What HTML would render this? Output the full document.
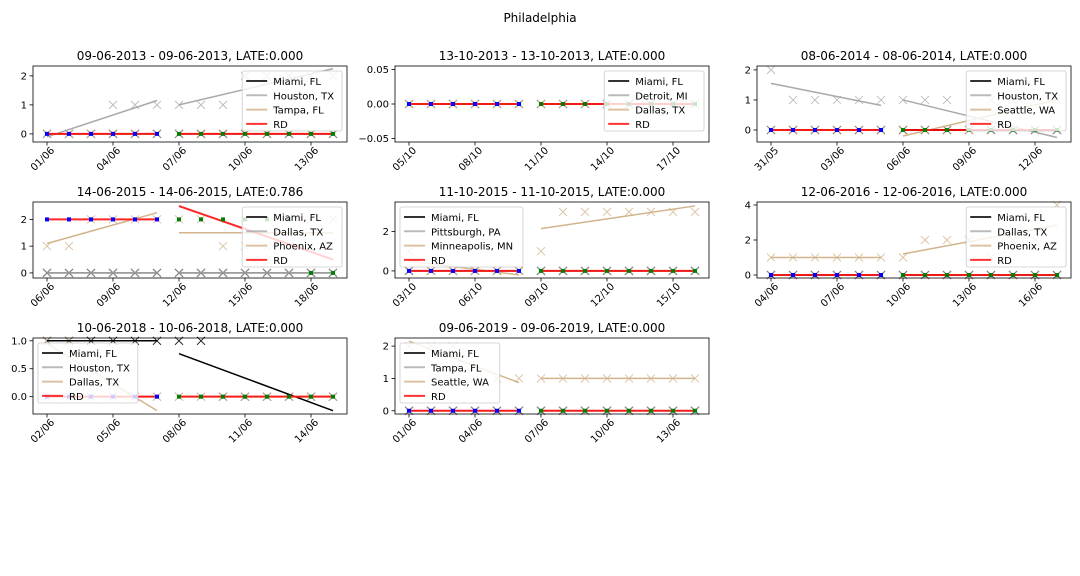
<!DOCTYPE html>
<html><head><meta charset="utf-8">
<style>
html,body{margin:0;padding:0;background:#fff;}
svg{display:block;font-family:"DejaVu Sans","Liberation Sans",sans-serif;}
</style></head>
<body>
<svg id="fig" width="1080" height="576" viewBox="0 0 1080 576" xmlns="http://www.w3.org/2000/svg">
<rect width="1080" height="576" fill="#fff"/>
<text x="540" y="22" text-anchor="middle" font-size="12" fill="#000">Philadelphia</text>
</svg>
<script>
// ----- data -----
const panelTitles = ["09-06-2013 - 09-06-2013, LATE:0.000","13-10-2013 - 13-10-2013, LATE:0.000","08-06-2014 - 08-06-2014, LATE:0.000","14-06-2015 - 14-06-2015, LATE:0.786","11-10-2015 - 11-10-2015, LATE:0.000","12-06-2016 - 12-06-2016, LATE:0.000","10-06-2018 - 10-06-2018, LATE:0.000","09-06-2019 - 09-06-2019, LATE:0.000"];
const seriesNames = [["Miami, FL","Houston, TX","Tampa, FL","RD"],["Miami, FL","Detroit, MI","Dallas, TX","RD"],["Miami, FL","Houston, TX","Seattle, WA","RD"],["Miami, FL","Dallas, TX","Phoenix, AZ","RD"],["Miami, FL","Pittsburgh, PA","Minneapolis, MN","RD"],["Miami, FL","Dallas, TX","Phoenix, AZ","RD"],["Miami, FL","Houston, TX","Dallas, TX","RD"],["Miami, FL","Tampa, FL","Seattle, WA","RD"]];
const xTickLabels = [["01/06","04/06","07/06","10/06","13/06"],["05/10","08/10","11/10","14/10","17/10"],["31/05","03/06","06/06","09/06","12/06"],["06/06","09/06","12/06","15/06","18/06"],["03/10","06/10","09/10","12/10","15/10"],["04/06","07/06","10/06","13/06","16/06"],["02/06","05/06","08/06","11/06","14/06"],["01/06","04/06","07/06","10/06","13/06"]];
const yTickValues = [[0,1,2],[-0.05,0,0.05],[0,1,2],[0,1,2],[0,2],[0,2,4],[0,0.5,1],[0,1,2]];
const yTickLabels = [["0","1","2"],["−0.05","0.00","0.05"],["0","1","2"],["0","1","2"],["0","2"],["0","2","4"],["0.0","0.5","1.0"],["0","1","2"]];
const yRanges = [[-0.28,2.34],[-0.055,0.055],[-0.4,2.13],[-0.19,2.65],[-0.36,3.5],[-0.17,4.17],[-0.31,1.05],[-0.1,2.25]];
const Z = [0,0,0,0,0,0,0,0,0,0,0,0,0,0];
const miamiValues = [Z,Z,Z,Z,Z,Z,[1,1,1,1,1,1,1,1,0,0,0,0,0,0],Z];
const city2Values = [[0,0,0,1,1,1,1,1,1,2,2,2,2,2],Z,[2,1,1,1,1,1,1,1,1,0,0,0,0,0],Z,Z,Z,Z,Z];
const city3Values = [Z,Z,[0,0,0,0,0,0,0,0,0,0,1,1,1,1],[1,1,2,2,2,2,2,2,1,1,1,1,2,2],[1,0,0,0,0,0,1,3,3,3,3,3,3,3],[1,1,1,1,1,1,1,2,2,2,1,2,2,4],[1,1,0,0,0,0,0,0,0,0,0,0,0,0],[2,2,2,1,1,1,1,1,1,1,1,1,1,1]];
const rdValues = [Z,Z,Z,[2,2,2,2,2,2,2,2,2,2,2,2,0,0],Z,Z,Z,Z];
// trend lines: [segA start, segA end, segB start, segB end]
const miamiTrend = [[0,0,0,0],[0,0,0,0],[0,0,0,0],[0,0,0,0],[0,0,0,0],[0,0,0,0],[1,1,0.77,-0.25],[0,0,0,0]];
const city2Trend = [[-0.1,1.15,1.0,2.25],[0,0,0,0],[1.55,0.82,1.0,-0.25],[0,0,0,0],[0,0,0,0],[0,0,0,0],[0,0,0,0],[0,0,0,0]];
const city3Trend = [[0,0,0,0],[0,0,0,0],[0,0,-0.2,1.0],[1.1,2.25,1.5,1.5],[0.5,-0.2,2.15,3.3],[1,1,1.2,2.85],[0.95,-0.25,0,0],[2.15,0.87,1,1]];
const rdTrend = [[0,0,0,0],[0,0,0,0],[0,0,0,0],[2,2,2.5,0.5],[0,0,0,0],[0,0,0,0],[0,0,0,0],[0,0,0,0]];
const legendLeft = [false,false,false,false,true,false,true,true];

// ----- layout -----
const NS="http://www.w3.org/2000/svg";
const svg=document.getElementById('fig');
const colLeft=[33,395,757], axW=314;
const rowTop=[66,202,338], axH=76;
function mk(tag,attrs,parent){const e=document.createElementNS(NS,tag);for(const k in attrs)e.setAttribute(k,attrs[k]);(parent||svg).appendChild(e);return e;}
const colors=["#000000","#a9a9a9","#d2b48c","#ff0000"];

for(let p=0;p<8;p++){
  const L=colLeft[p%3], T=rowTop[Math.floor(p/3)], R=L+axW, B=T+axH;
  const [y0,y1]=yRanges[p];
  const xs=i=>L+14+i*22;
  const ys=v=>B-(v-y0)/(y1-y0)*axH;
  const g=mk('g',{});
  
  
  const t=mk('text',{x:L+axW/2,y:T-6,'text-anchor':'middle','font-size':'12',fill:'#000'},g);
  t.textContent=panelTitles[p];
  
  
  const trends=[miamiTrend[p],city2Trend[p],city3Trend[p],rdTrend[p]];
  const vals=[miamiValues[p],city2Values[p],city3Values[p],rdValues[p]];
  for(let s=0;s<3;s++){
    vals[s].forEach((v,i)=>{
      const x=xs(i),y=ys(v),d=4;
      const m=mk('path',{d:`M${x-d},${y-d}L${x+d},${y+d}M${x-d},${y+d}L${x+d},${y-d}`,stroke:s==0?'#000':colors[s],'stroke-width':1,opacity:s==0?0.9:0.75,fill:'none'},g);
      
      
    });
  }
  for(let s=0;s<4;s++){
    const tr=trends[s];
    [[0,5,tr[0],tr[1]],[6,13,tr[2],tr[3]]].forEach(seg=>{
      const ln=mk('line',{x1:xs(seg[0]),y1:ys(seg[2]),x2:xs(seg[1]),y2:ys(seg[3]),stroke:colors[s],'stroke-width':s==3?2:1.5,opacity:s==3?0.85:1},g);
      
      
    });
  }
  rdValues[p].forEach((v,i)=>{
    const r=mk('rect',{x:xs(i)-2,y:ys(v)-2,width:4,height:4,fill:i<6?'#0000ff':'#008000'},g);
    
    
  });
  const fr=mk('rect',{x:L,y:T,width:axW,height:axH,fill:'none',stroke:'#000','stroke-width':0.8},g);
  
  
  xTickLabels[p].forEach((lab,k)=>{
    const x=xs(k*3);
    mk('line',{x1:x,y1:B,x2:x,y2:B+3.5,stroke:'#000','stroke-width':0.8},g);
    const ax=x+8, ay=B+9;
    const tx=mk('text',{x:ax,y:ay,'text-anchor':'end','font-size':'10',fill:'#000',transform:`rotate(-45 ${ax} ${ay})`},g);
    tx.textContent=lab;
    
    
  });
  yTickValues[p].forEach((v,k)=>{
    const y=ys(v);
    mk('line',{x1:L-3.5,y1:y,x2:L,y2:y,stroke:'#000','stroke-width':0.8},g);
    const ty=mk('text',{x:L-6,y:y+3.5,'text-anchor':'end','font-size':'10',fill:'#000'},g);
    ty.textContent=yTickLabels[p][k];
    
    
  });
  const names=seriesNames[p];
  const maxLen=Math.max(...names.map(n=>n.length));
  const lw=36+maxLen*5.8, lh=60;
  const lx=legendLeft[p]?L+5:R-5-lw, ly=T+5;
  const lg=mk('g',{},g);
  
  
  mk('rect',{x:lx,y:ly,width:lw,height:lh,rx:2,fill:'#fff','fill-opacity':0.8,stroke:'#ccc','stroke-width':0.8},lg);
  names.forEach((n,k)=>{
    const yy=ly+10+k*14.3;
    mk('line',{x1:lx+4,y1:yy,x2:lx+25,y2:yy,stroke:colors[k],'stroke-width':2,opacity:0.8},lg);
    const lt=mk('text',{x:lx+31,y:yy+4,'font-size':'10',fill:'#000'},lg);
    lt.textContent=n;
    
    
  });
}
</script>
</body></html>
